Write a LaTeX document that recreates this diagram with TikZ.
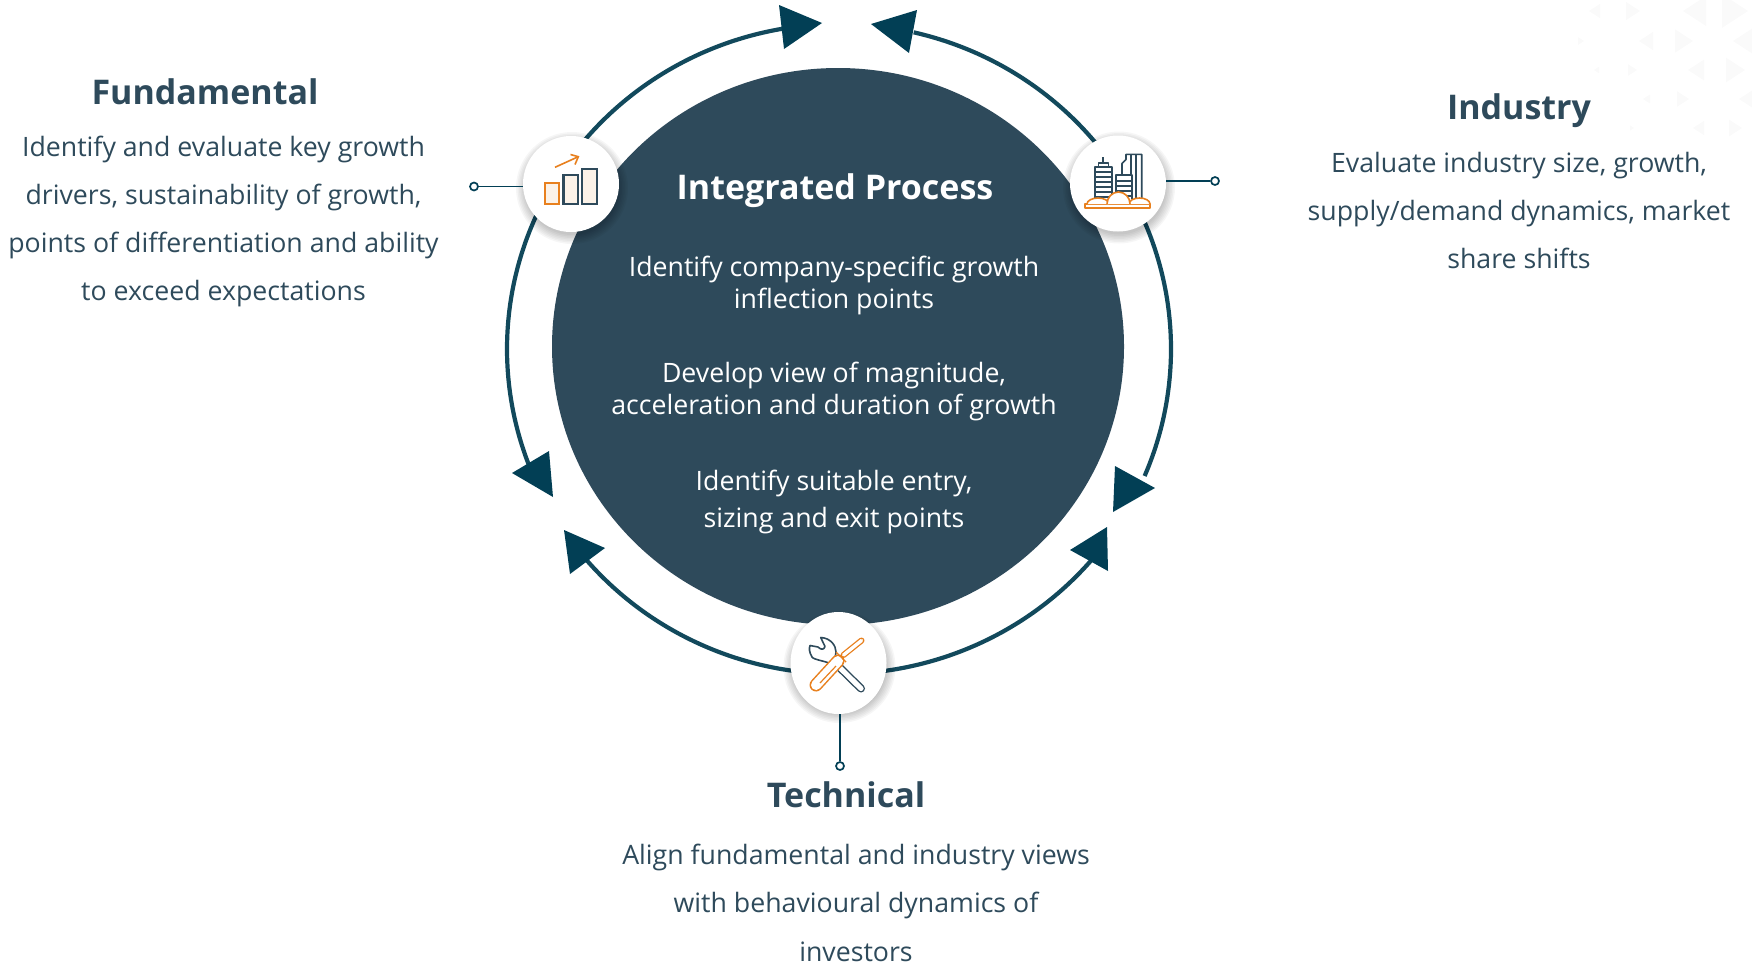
\documentclass[tikz,border=0pt]{standalone}
\usepackage{fontspec}
\setmainfont{Open Sans}
\newfontfamily\headfont{Open Sans}
\usetikzlibrary{shapes.geometric,arrows.meta}
\definecolor{slate}{HTML}{2E4A5B}
\definecolor{ringc}{HTML}{12495C}
\definecolor{headc}{HTML}{023F55}
\definecolor{orng}{HTML}{E8801E}
\definecolor{cream}{HTML}{FBF2E8}
\definecolor{ghost}{HTML}{FAFAFA}
\tikzset{
  ringline/.style={draw=ringc,line width=4.2pt},
  tipfill/.style={fill=headc,draw=none},
  iconball/.style={ellipse,fill=white,minimum width=96pt,minimum height=96pt,inner sep=0pt},
  pinnode/.style={circle,draw=headc,fill=white,line width=1.7pt,minimum size=8pt,inner sep=0pt},
  pinline/.style={draw=headc,line width=1.9pt},
  headtxt/.style={font=\headfont\bfseries\fontsize{34}{40}\selectfont,text=slate,inner sep=0pt},
  bodytxt/.style={font=\fontsize{26.7}{48}\selectfont,text=slate,align=center,inner sep=0pt},
  coretxt/.style={font=\fontsize{26.7}{32}\selectfont,text=white,align=center,inner sep=0pt},
  navyline/.style={draw=slate,line width=1.6pt,line join=round},
  orngline/.style={draw=orng,line width=1.6pt,line join=round},
  softshadow/.style={fill=black,opacity=0.035,draw=none},
}
\newcommand{\ringarc}[2]{\draw[ringline] plot[domain=#1:#2,samples=50,smooth] ({839+332*cos(\x)},{349+325*sin(\x)});}
\newcommand{\ltri}[3]{\fill[ghost] (#1,#2) -- ++(#3,-0.65*#3) -- ++(0,1.3*#3) -- cycle;}
\newcommand{\rtri}[3]{\fill[ghost] (#1,#2) -- ++(-#3,-0.65*#3) -- ++(0,1.3*#3) -- cycle;}
\begin{document}
\begin{tikzpicture}[x=1pt,y=-1pt]
\useasboundingbox (0,0) rectangle (1752,962);
% faint background triangles
\ltri{1589}{11}{11}\rtri{1640}{11}{14}\ltri{1683}{11}{23}\rtri{1748}{11}{26}
\rtri{1584}{41}{6}\ltri{1639}{41}{14}\rtri{1693}{41}{18}\ltri{1733}{41}{19}
\ltri{1594}{70}{5}\rtri{1637}{70}{9}\ltri{1688}{70}{16}\rtri{1745}{70}{19}
\ltri{1643}{99}{7}\rtri{1689}{99}{12}\ltri{1739}{99}{13}
\rtri{1634}{128}{4}\ltri{1693}{128}{11}\rtri{1742}{128}{13}
% ring arcs
\ringarc{212}{261}
\ringarc{-31}{-77}
\ringarc{212}{158}
\ringarc{-31}{23}
\ringarc{90}{142}
\ringarc{90}{40}
% arrow heads
\fill[tipfill] (822,23) -- (779,5) -- (784,49) -- cycle;
\fill[tipfill] (871,24) -- (917,10) -- (909,53) -- cycle;
\fill[tipfill] (512,473) -- (549,451) -- (553,497) -- cycle;
\fill[tipfill] (1155,488) -- (1115,466) -- (1113,512) -- cycle;
\fill[tipfill] (605,548) -- (564,530) -- (570,574) -- cycle;
\fill[tipfill] (1070,550) -- (1107,527) -- (1108,571) -- cycle;
% central disc
\node[ellipse,fill=slate,minimum width=572pt,minimum height=557pt,inner sep=0pt] (core) at (838,346.5) {};
% shadows
\foreach \cx/\cy in {571/184,1118/183.5,838.5/663}{
  \foreach \r in {47,48.5,...,56}{
    \fill[softshadow] (\cx+1,\cy+4) circle[radius=\r pt];
  }
}
% icon discs
\node[iconball] (fund) at (571,184) {};
\node[iconball] (indu) at (1118,183.5) {};
\node[iconball,minimum height=102pt] (tech) at (838.5,663) {};
% pins and connectors
\node[pinnode] (fundpin) at (474,186.5) {};
\node[pinnode] (indupin) at (1215,181) {};
\node[pinnode] (techpin) at (840,766) {};
\draw[pinline] (fundpin) -- (fundpin -| fund.west);
\draw[pinline] (indupin) -- (indupin -| indu.east);
\draw[pinline] (techpin) -- (techpin |- tech.south);
% fundamental icon
\draw[draw=orng,fill=cream,line width=2.2pt] (545,183) rectangle (559.3,204.3);
\draw[draw=slate,fill=cream,line width=2.2pt] (563.5,175) rectangle (578,204.3);
\draw[draw=slate,fill=cream,line width=2.2pt] (582,169) rectangle (597,204.3);
\draw[draw=orng,line width=1.6pt] (555,167.3) -- (578.3,156.7);
\draw[draw=orng,line width=1.6pt] (570.5,154.5) -- (578.3,156.7) -- (575,164.5);
% industry icon
\draw[navyline] (1095,200) -- (1095,166.7) -- (1111.7,166.7) -- (1111.7,198);
\draw[navyline] (1098.3,166.7) -- (1098.3,162.7) -- (1108.3,162.7) -- (1108.3,166.7);
\draw[navyline] (1102.7,162.7) -- (1102.7,156.7);
\foreach \y in {172,177,182,187,192,197}{\draw[draw=slate,line width=1.3pt] (1095,\y) -- (1111.7,\y);}
\draw[navyline] (1116,196) -- (1116,175) -- (1131.7,175) -- (1131.7,199);
\foreach \y in {181,186,191,196}{\draw[draw=slate,line width=1.3pt] (1116,\y) -- (1131.7,\y);}
\draw[navyline] (1122,175) -- (1122,163.5) -- (1126,159.5) -- (1126,154.3) -- (1141.7,154.3) -- (1141.7,200);
\draw[draw=slate,line width=1.1pt] (1131,155) -- (1131,175) (1136,155) -- (1136,198);
\draw[orngline] (1085,204) rectangle (1150,207.7);
\draw[orngline,fill=white] (1087,204) arc[start angle=180,end angle=0,x radius=11pt,y radius=6pt];
\draw[orngline,fill=white] (1129,204) arc[start angle=180,end angle=0,x radius=10.5pt,y radius=6pt];
\draw[orngline,fill=white] (1107,204) arc[start angle=180,end angle=0,x radius=11.5pt,y radius=12pt];
% technical icon
\draw[draw=slate,line width=8pt,line cap=round] (835,663) -- (861,688.5);
\draw[draw=white,line width=5.2pt,line cap=round] (835,663) -- (861,688.5);
\draw[navyline,fill=white] (820.7,637.5) .. controls (831,638) and (836,646) .. (836,652) .. controls (836,654) and (835,657) .. (834.5,659)
  -- (831,664) .. controls (826,661) and (814,660) .. (812,657) .. controls (809,652) and (809,648) .. (810,645.5)
  -- (818,647) .. controls (821,650) and (824,650) .. (825,646.5) -- cycle;
\draw[draw=orng,line width=6pt,line cap=round] (843.5,655) -- (861.5,640.5);
\draw[draw=white,line width=3.4pt,line cap=round] (843.5,655) -- (861.5,640.5);
\draw[draw=orng,line width=13pt,line cap=round] (838,661) -- (816,685);
\draw[draw=white,line width=10pt,line cap=round] (838,661) -- (816,685);
\draw[draw=orng,line width=1.2pt] (836,666) -- (820,683);
\draw[draw=orng,line width=1.4pt] (836,652) -- (846,662);
% headings and body
\node[headtxt] (t1) at (205,92) {Fundamental};
\node[headtxt] (t2) at (1519,111) {Industry};
\node[headtxt] (t3) at (846,795) {Technical};
\node[bodytxt] (b1) at (223.5,221) {Identify and evaluate key growth\\drivers, sustainability of growth,\\points of differentiation and ability\\to exceed expectations};
\node[bodytxt] (b2) at (1519,210.5) {Evaluate industry size, growth,\\supply/demand dynamics, market\\share shifts};
\node[bodytxt] (b3) at (856,881.5) {Align fundamental and industry views\\with behavioural dynamics of};
\node[bodytxt] (b3c) at (856,951.5) {investors};
% core text
\node[headtxt,text=white] (c0) at (835,191) {Integrated Process};
\node[coretxt] (c1) at (834,285.5) {Identify company-specific growth\\inflection points};
\node[coretxt] (c2) at (834,391.5) {Develop view of magnitude,\\acceleration and duration of growth};
\node[coretxt,font=\fontsize{26.7}{37}\selectfont] (c3) at (834,501.5) {Identify suitable entry,\\sizing and exit points};
\end{tikzpicture}
\end{document}
